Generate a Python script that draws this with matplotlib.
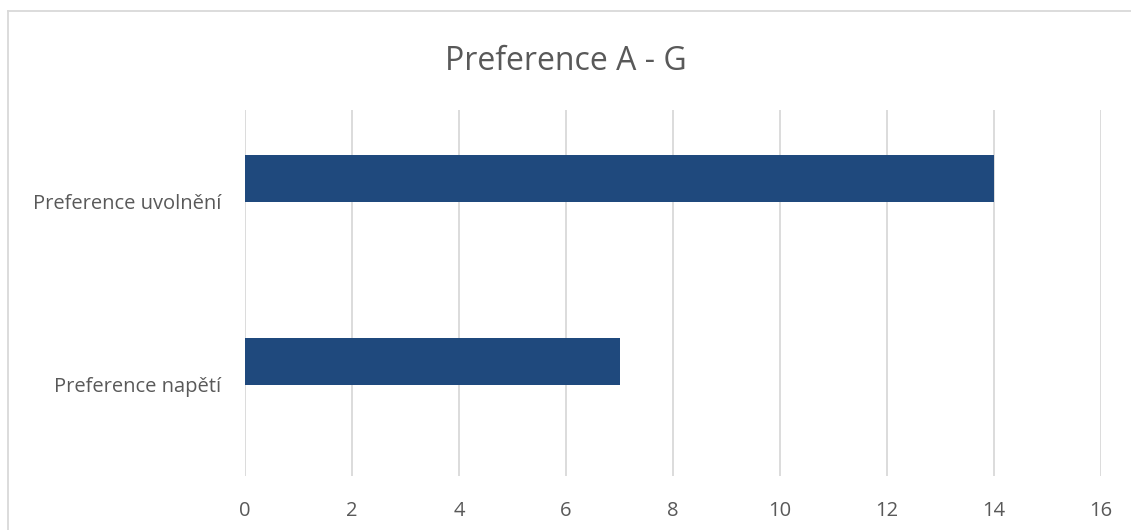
import numpy as np
import matplotlib.pyplot as plt
from matplotlib.lines import Line2D

categories = ['Preference napětí', 'Preference uvolnění']
values = [7, 14]
xticks = [0, 2, 4, 6, 8, 10, 12, 14, 16]

plt.rcParams['font.family'] = ['Open Sans', 'DejaVu Sans']
text_color = '#595959'

fig = plt.figure(figsize=(11.31, 5.30), dpi=100)
ax = fig.add_axes([245 / 1131, 54 / 530, 856 / 1131, 366 / 530])

# bars sit a bit above the category centre, like a clustered bar with one series
pos = np.arange(len(categories))
ax.barh(pos + 0.126, values, height=0.257, color='#1F497D', zorder=3)

ax.set_xlim(0, 16)
ax.set_ylim(-0.5, 1.5)
ax.set_xticks(xticks)
ax.set_xticklabels([str(t) for t in xticks])
ax.set_yticks(pos)
ax.set_yticklabels(categories)
ax.tick_params(axis='both', length=0, labelsize=14.5, colors=text_color)
ax.tick_params(axis='x', pad=18)
ax.tick_params(axis='y', pad=17)
ax.grid(axis='x', color='#D9D9D9', linewidth=1.3, zorder=0)
for s in ax.spines.values():
    s.set_visible(False)

fig.text(0.5, 1 - 62 / 530, 'Preference A - G', ha='center', va='center',
         fontsize=23, color=text_color)

# chart frame: only the top and left edges fall inside the image
fx = 8 / 1131
fy = 1 - 11 / 530
fig.add_artist(Line2D([fx, 1.0], [fy, fy], transform=fig.transFigure,
                      color='#D9D9D9', linewidth=1.3))
fig.add_artist(Line2D([fx, fx], [0.0, fy], transform=fig.transFigure,
                      color='#D9D9D9', linewidth=1.3))

fig.savefig('out.png', dpi=100)
